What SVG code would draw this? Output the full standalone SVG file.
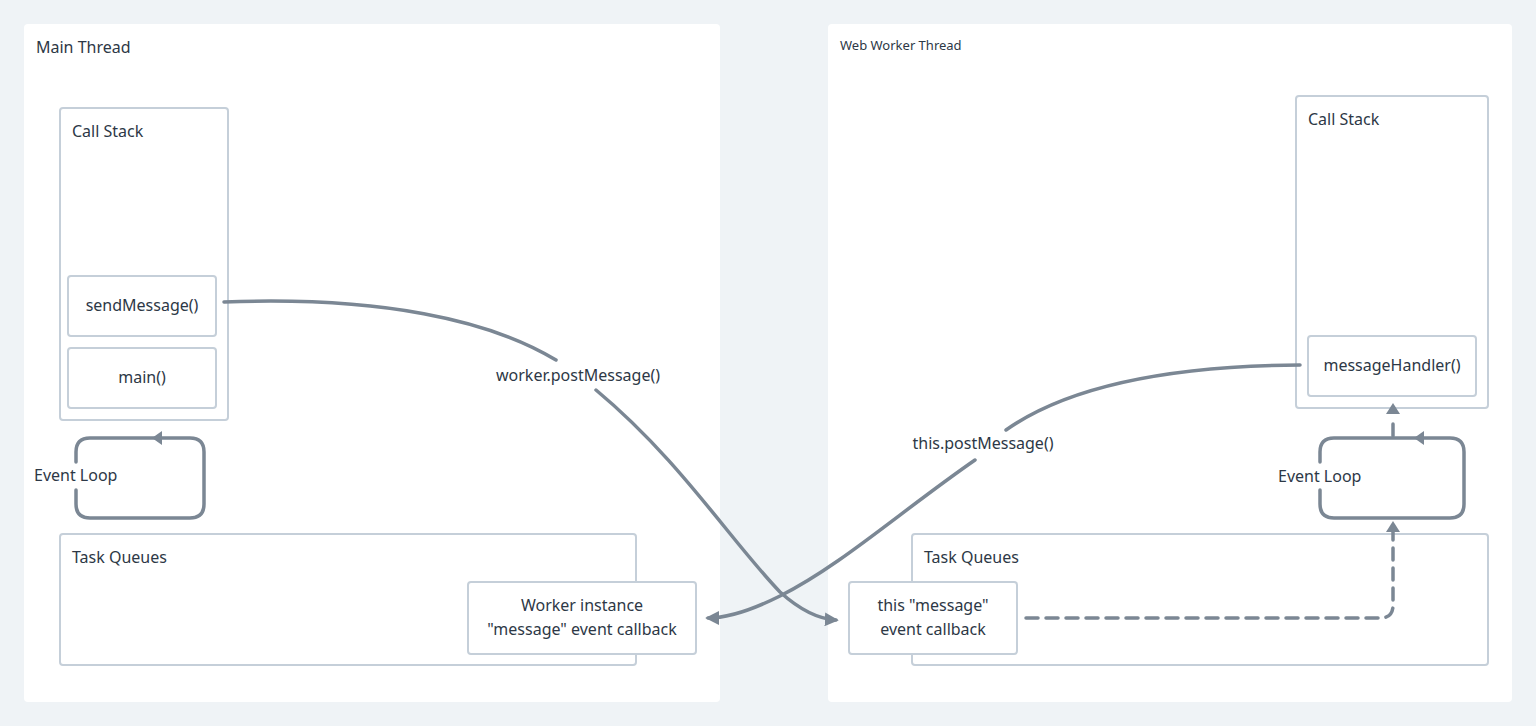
<svg xmlns="http://www.w3.org/2000/svg" width="1536" height="726" viewBox="0 0 1536 726">
<style>
.panel{fill:#ffffff;}
.box{fill:#ffffff;stroke:#c5cfd9;stroke-width:2;}
.t{font-family:"Noto Sans","Open Sans",sans-serif;font-size:16px;fill:#2d3846;}
.ts{font-family:"Noto Sans","Open Sans",sans-serif;font-size:13px;fill:#2d3846;}
.ln{fill:none;stroke:#7b8794;stroke-width:3.5;stroke-linecap:round;}
.dash{fill:none;stroke:#7b8794;stroke-width:3.5;stroke-dasharray:12 8;stroke-linecap:round;}
.ah{fill:#7b8794;}
</style>
<defs>
<marker id="arr" viewBox="0 0 10 10" refX="8" refY="5" markerWidth="4" markerHeight="4" orient="auto-start-reverse" markerUnits="strokeWidth">
<path d="M0,0 L10,5 L0,10 z" fill="#7b8794"/>
</marker>
</defs>
<rect width="1536" height="726" fill="#eff3f6"/>

<g id="main-thread">
<rect class="panel" x="24" y="24" width="696" height="678" rx="4"/>
<text class="t" x="36" y="53">Main Thread</text>
</g>
<g id="main-callstack">
<rect class="box" x="60" y="108" width="168" height="312" rx="3"/>
<text class="t" x="72" y="137">Call Stack</text>
</g>
<g id="sendMessage">
<rect class="box" x="68" y="276" width="148" height="60" rx="3"/>
<text class="t" x="142" y="311" text-anchor="middle">sendMessage()</text>
</g>
<g id="main">
<rect class="box" x="68" y="348" width="148" height="60" rx="3"/>
<text class="t" x="142" y="383" text-anchor="middle">main()</text>
</g>
<g id="main-eventloop">
<path class="ln" d="M76,490 V504 Q76,518 90,518 H190 Q204,518 204,504 V452 Q204,438 190,438 H90 Q76,438 76,452 V462"/>
<path class="ah" d="M152,438 L162,431 L162,445 z"/>
<text class="t" x="34" y="481">Event Loop</text>
</g>
<g id="main-taskqueues">
<rect class="box" x="60" y="534" width="576" height="131" rx="3"/>
<text class="t" x="72" y="563">Task Queues</text>
</g>
<g id="worker-instance-callback">
<rect class="box" x="468" y="582" width="228" height="72" rx="3"/>
<text class="t" x="582" y="611" text-anchor="middle">Worker instance</text>
<text class="t" x="582" y="635" text-anchor="middle">"message" event callback</text>
</g>

<g id="worker-thread">
<rect class="panel" x="828" y="24" width="684" height="678" rx="4"/>
<text class="ts" x="840" y="50">Web Worker Thread</text>
</g>
<g id="worker-callstack">
<rect class="box" x="1296" y="96" width="192" height="312" rx="3"/>
<text class="t" x="1308" y="125">Call Stack</text>
</g>
<g id="messageHandler">
<rect class="box" x="1308" y="336" width="168" height="60" rx="3"/>
<text class="t" x="1392" y="371" text-anchor="middle">messageHandler()</text>
</g>
<g id="worker-eventloop">
<path class="ln" d="M1320,490 V504 Q1320,518 1334,518 H1450 Q1464,518 1464,504 V452 Q1464,438 1450,438 H1334 Q1320,438 1320,452 V462"/>
<path class="ah" d="M1414,438 L1424,431 L1424,445 z"/>
<text class="t" x="1278" y="482">Event Loop</text>
</g>
<g id="worker-taskqueues">
<rect class="box" x="912" y="534" width="576" height="131" rx="3"/>
<text class="t" x="924" y="563">Task Queues</text>
</g>
<g id="this-message-callback">
<rect class="box" x="849" y="582" width="168" height="72" rx="3"/>
<text class="t" x="933" y="611" text-anchor="middle">this "message"</text>
<text class="t" x="933" y="635" text-anchor="middle">event callback</text>
</g>

<g id="connectors">
<path class="ln" d="M224,302 C380,296 490,320 556,360"/>
<path class="ln" d="M596,390 C680,460 730,540 780,592 C800,610 818,619 836,620" marker-end="url(#arr)"/>
<text class="t" x="578" y="381" text-anchor="middle">worker.postMessage()</text>

<path class="ln" d="M1300,365 C1150,366 1060,392 1006,430"/>
<path class="ln" d="M975,460 C900,512 840,566 780,596 C752,610 728,618 708,618" marker-end="url(#arr)"/>
<text class="t" x="983" y="449" text-anchor="middle">this.postMessage()</text>

<path class="dash" d="M1026,618 H1380 Q1393,618 1393,605 V530"/>
<path class="ah" d="M1393,521 L1386,532 L1400,532 z"/>
<path class="dash" d="M1393,436 V418"/>
<path class="ah" d="M1393,403 L1386,414 L1400,414 z"/>
</g>
</svg>
